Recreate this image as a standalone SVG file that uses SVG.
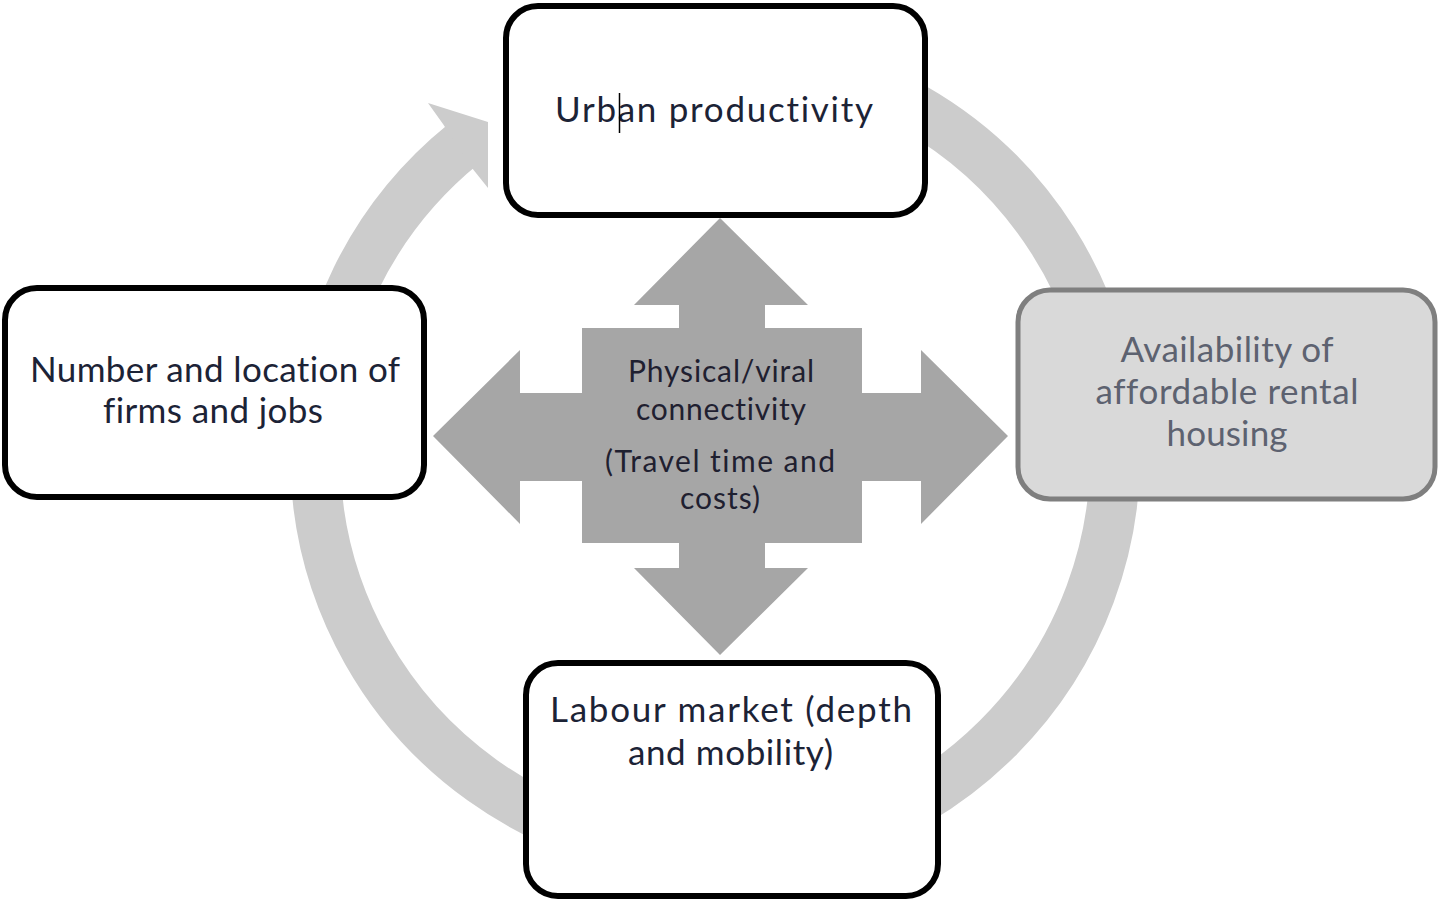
<svg xmlns="http://www.w3.org/2000/svg" width="1440" height="902" viewBox="0 0 1440 902">
  <style>
    text { font-variant-ligatures: none; }
    .box { fill: #ffffff; stroke: #000000; stroke-width: 6; }
    .box-muted { fill: #d9d9d9; stroke: #7f7f7f; stroke-width: 5; }
    .label { font-family: Lato, "Open Sans", sans-serif; font-size: 35px; fill: #1c2336; text-anchor: middle; }
    .label-muted { font-family: Lato, "Open Sans", sans-serif; font-size: 35px; fill: #5d6270; text-anchor: middle; }
    .hub-label { font-family: Lato, "Open Sans", sans-serif; font-size: 30px; fill: #1f2030; text-anchor: middle; }
    .cycle { fill: none; stroke: #cccccc; stroke-width: 50; }
    .cycle-head { fill: #cccccc; }
    .hub { fill: #a6a6a6; }
  </style>

  <rect width="1440" height="902" fill="#ffffff"/>

  <!-- circular cycle arrow running clockwise behind the boxes -->
  <g id="connectors">
    <path class="cycle" d="M 749.9 56.5 A 400 400 0 1 1 463.3 144.2"/>
    <polygon class="cycle-head" points="443,124 428,103 488,122 488,188 472,168"/>
  </g>

  <!-- central four-way arrow -->
  <g id="hub">
    <path class="hub" d="M 720 218 L 808 305 L 765 305 L 765 328 L 862 328 L 862 393 L 921 393 L 921 350 L 1008 436 L 921 524 L 921 481 L 862 481 L 862 543 L 765 543 L 765 568 L 808 568 L 720 655 L 634 568 L 679 568 L 679 543 L 582 543 L 582 481 L 520 481 L 520 524 L 433 436 L 520 350 L 520 393 L 582 393 L 582 328 L 679 328 L 679 305 L 634 305 Z"/>
    <text class="hub-label" x="721" y="382" textLength="186">Physical/viral</text>
    <text class="hub-label" x="721" y="420" textLength="170">connectivity</text>
    <text class="hub-label" x="720" y="472" textLength="230">(Travel time and</text>
    <text class="hub-label" x="720" y="509" textLength="80">costs)</text>
  </g>

  <g id="urban-productivity">
    <rect class="box" x="506" y="6" width="419" height="209" rx="32"/>
    <text class="label" x="714" y="122" textLength="318">Urban productivity</text>
    <line x1="619.5" y1="93" x2="619.5" y2="133" stroke="#000000" stroke-width="1.5"/>
  </g>

  <g id="firms-and-jobs">
    <rect class="box" x="5" y="288" width="419" height="209" rx="32"/>
    <text class="label" x="215" y="382" textLength="370">Number and location of</text>
    <text class="label" x="213" y="423" textLength="220">firms and jobs</text>
  </g>

  <g id="rental-housing">
    <rect class="box-muted" x="1018" y="290" width="417" height="209" rx="32"/>
    <text class="label-muted" x="1227" y="362" textLength="213">Availability of</text>
    <text class="label-muted" x="1227" y="404" textLength="263">affordable rental</text>
    <text class="label-muted" x="1227" y="446" textLength="121">housing</text>
  </g>

  <g id="labour-market">
    <rect class="box" x="526" y="663" width="412" height="233" rx="32"/>
    <text class="label" x="731" y="722" textLength="362">Labour market (depth</text>
    <text class="label" x="730.5" y="765" textLength="205">and mobility)</text>
  </g>
</svg>
